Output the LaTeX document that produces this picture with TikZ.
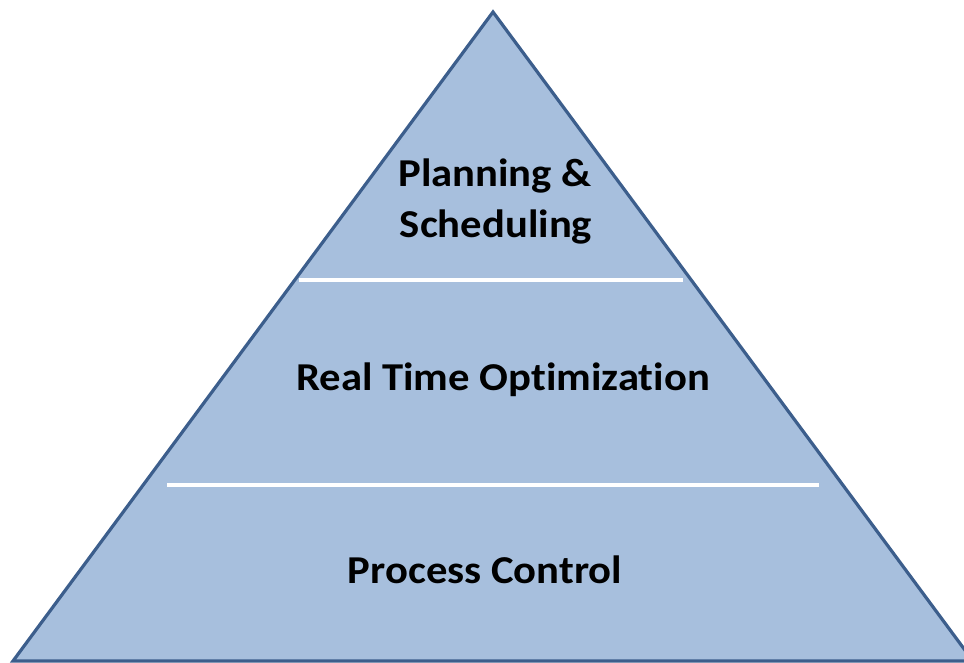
\documentclass[tikz,border=0pt]{standalone}
\usepackage{fontspec}
\setmainfont{Carlito}[Ligatures={NoCommon}, FakeStretch=1.08]
\definecolor{pyrfill}{RGB}{167,191,221}
\definecolor{pyredge}{RGB}{60,94,140}
\tikzset{
  pyr/.style={fill=pyrfill, draw=pyredge, line width=3.2pt, line join=miter},
  sep/.style={draw=white, line width=4pt},
  lvl/.style={font=\fontsize{39.5}{51}\selectfont\bfseries, text=black, inner sep=0pt, anchor=base, align=center}
}
\begin{document}
\begin{tikzpicture}[x=1pt,y=-1pt]
\useasboundingbox (0,0) rectangle (964,663);
\clip (0,0) rectangle (964,663);
\coordinate (apex) at (493,12);
\coordinate (bl) at (13,661);
\coordinate (br) at (973,661);
\draw[pyr] (apex) -- (bl) -- (br) -- cycle;
\coordinate (s1a) at (299,280);
\coordinate (s1b) at (683,280);
\coordinate (s2a) at (167,484.5);
\coordinate (s2b) at (819,484.5);
\draw[sep] (s1a) -- (s1b);
\draw[sep] (s2a) -- (s2b);
\node[lvl] (plan) at (495,187) {Planning \&};
\node[lvl] (sched) at (496,238) {Scheduling};
\node[lvl] (rto) at (503,390) {Real Time Optimization};
\node[lvl] (pc) at (485,583) {Process Control};
\end{tikzpicture}
\end{document}
